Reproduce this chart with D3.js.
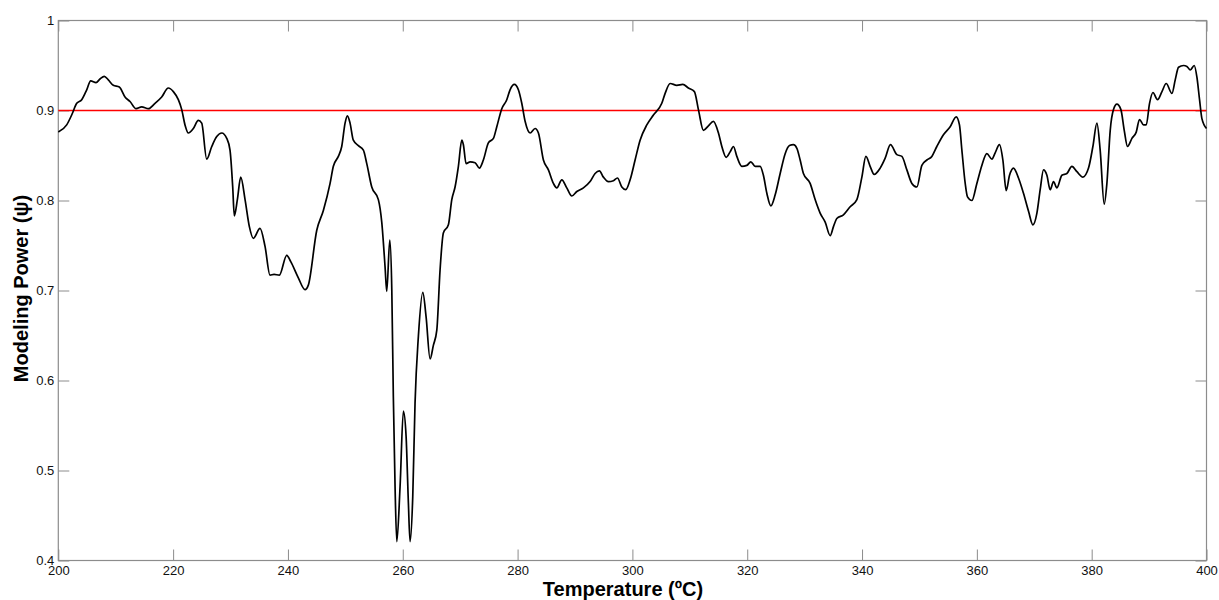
<!DOCTYPE html>
<html>
<head>
<meta charset="utf-8">
<script src="https://cdnjs.cloudflare.com/ajax/libs/d3/7.8.5/d3.min.js"></script>
<style>
  html, body { margin: 0; padding: 0; background: #fff; }
  svg { display: block; }
  .tick text { font-family: Arial, "Liberation Sans", sans-serif; font-size: 13px; fill: #111; }
  .axis-title { font-family: Arial, "Liberation Sans", sans-serif; font-weight: bold; font-size: 20px; fill: #000; }
</style>
</head>
<body>
<svg id="chart" width="1219" height="600"></svg>
<script>
// Temperature samples (ºC)
const temperature = [
  200.00, 201.46, 202.33, 203.21, 204.08, 204.95, 205.64, 206.57, 207.26, 208.01,
  208.71, 209.58, 210.63, 211.62, 212.49, 213.54, 214.53, 215.68, 216.85, 218.01,
  219.16, 220.04, 220.91, 221.50, 222.07, 222.65, 223.52, 224.39, 224.98, 225.85,
  226.73, 227.60, 228.47, 229.34, 229.91, 230.38, 230.66, 231.19, 231.78, 232.53,
  233.28, 233.97, 235.14, 236.01, 236.88, 237.58, 238.50, 239.79, 240.49, 241.81,
  242.98, 243.55, 245.02, 246.17, 247.34, 247.91, 248.78, 249.37, 249.95, 250.35,
  250.82, 251.39, 252.27, 253.14, 253.73, 254.60, 255.75, 256.34, 256.92, 257.21,
  257.74, 258.09, 258.36, 258.66, 258.96, 259.53, 260.11, 260.58, 260.98, 261.27,
  261.74, 262.14, 262.72, 263.49, 264.06, 264.76, 265.33, 265.93, 266.50, 267.07,
  267.95, 268.54, 269.11, 269.69, 270.28, 270.56, 271.03, 271.73, 272.60, 273.35,
  274.04, 274.91, 275.79, 276.38, 277.25, 278.12, 278.69, 279.44, 280.14, 280.73,
  281.31, 282.18, 283.05, 283.63, 284.50, 285.37, 286.24, 286.83, 287.70, 288.57,
  289.44, 290.32, 291.47, 292.63, 293.50, 294.25, 294.95, 295.82, 296.69, 297.39,
  298.16, 298.85, 299.60, 300.47, 301.34, 302.51, 303.66, 305.12, 305.70, 306.57,
  307.74, 308.78, 309.76, 310.80, 311.50, 312.37, 313.24, 314.11, 314.99, 315.58,
  316.33, 317.02, 317.60, 318.19, 319.06, 319.93, 320.63, 321.38, 322.25, 322.82,
  323.42, 324.11, 324.86, 325.74, 326.61, 327.36, 328.05, 328.65, 329.22, 329.79,
  330.96, 331.83, 332.70, 333.58, 334.45, 335.02, 335.61, 336.76, 337.93, 339.10,
  339.97, 340.67, 341.41, 342.11, 343.16, 344.03, 344.95, 346.07, 346.94, 347.81,
  348.68, 349.55, 350.42, 351.29, 352.16, 353.03, 354.18, 355.35, 356.40, 356.97,
  357.39, 357.97, 358.37, 359.13, 360.00, 360.87, 361.74, 362.62, 363.19, 363.94,
  364.53, 365.11, 365.69, 366.38, 367.25, 368.12, 369.00, 369.76, 370.46, 371.03,
  371.61, 372.20, 372.77, 373.35, 373.94, 374.81, 375.68, 376.56, 377.43, 378.47,
  379.45, 380.21, 380.91, 381.48, 382.18, 382.65, 383.23, 383.80, 384.39, 385.09,
  385.67, 386.24, 387.01, 387.76, 388.33, 389.03, 389.50, 390.08, 390.67, 391.47,
  392.24, 392.98, 393.98, 394.55, 395.13, 396.00, 396.59, 397.17, 397.86, 398.33,
  398.79, 399.20, 400.00
];

// Modeling power (ψ) at each temperature
const modelingPower = [
  0.876, 0.884, 0.895, 0.908, 0.912, 0.923, 0.933, 0.931, 0.935, 0.938,
  0.934, 0.928, 0.926, 0.915, 0.910, 0.902, 0.904, 0.902, 0.908, 0.915,
  0.925, 0.921, 0.912, 0.901, 0.884, 0.875, 0.880, 0.889, 0.886, 0.846,
  0.860, 0.871, 0.875, 0.869, 0.856, 0.815, 0.783, 0.801, 0.826, 0.801,
  0.771, 0.758, 0.769, 0.749, 0.717, 0.718, 0.717, 0.739, 0.732, 0.714,
  0.701, 0.706, 0.767, 0.789, 0.819, 0.838, 0.849, 0.860, 0.886, 0.894,
  0.886, 0.867, 0.861, 0.856, 0.841, 0.815, 0.801, 0.776, 0.726, 0.699,
  0.756, 0.701, 0.582, 0.482, 0.421, 0.482, 0.566, 0.538, 0.464, 0.421,
  0.471, 0.575, 0.649, 0.698, 0.671, 0.624, 0.639, 0.656, 0.723, 0.764,
  0.773, 0.801, 0.815, 0.838, 0.867, 0.862, 0.841, 0.843, 0.842, 0.836,
  0.845, 0.864, 0.869, 0.882, 0.902, 0.912, 0.923, 0.929, 0.923, 0.908,
  0.888, 0.875, 0.880, 0.875, 0.845, 0.834, 0.819, 0.814, 0.823, 0.814,
  0.805, 0.810, 0.814, 0.821, 0.830, 0.833, 0.826, 0.821, 0.822, 0.825,
  0.815, 0.812, 0.823, 0.845, 0.867, 0.884, 0.895, 0.908, 0.919, 0.930,
  0.928, 0.929, 0.925, 0.921, 0.901, 0.878, 0.883, 0.888, 0.875, 0.860,
  0.848, 0.854, 0.860, 0.849, 0.838, 0.839, 0.843, 0.838, 0.838, 0.828,
  0.808, 0.794, 0.806, 0.830, 0.852, 0.861, 0.862, 0.858, 0.845, 0.830,
  0.819, 0.801, 0.786, 0.776, 0.761, 0.771, 0.780, 0.784, 0.793, 0.801,
  0.826, 0.849, 0.838, 0.829, 0.836, 0.847, 0.862, 0.851, 0.849, 0.834,
  0.819, 0.815, 0.839, 0.845, 0.849, 0.860, 0.873, 0.882, 0.893, 0.884,
  0.856, 0.819, 0.804, 0.800, 0.819, 0.839, 0.852, 0.846, 0.853, 0.862,
  0.845, 0.811, 0.828, 0.836, 0.825, 0.808, 0.788, 0.773, 0.786, 0.812,
  0.834, 0.828, 0.812, 0.821, 0.814, 0.828, 0.830, 0.838, 0.832, 0.826,
  0.836, 0.860, 0.886, 0.856, 0.796, 0.819, 0.878, 0.901, 0.907, 0.901,
  0.878, 0.860, 0.869, 0.876, 0.890, 0.884, 0.884, 0.908, 0.920, 0.912,
  0.921, 0.930, 0.919, 0.934, 0.948, 0.950, 0.949, 0.945, 0.950, 0.937,
  0.912, 0.891, 0.880
];

// Threshold level drawn as a horizontal reference line
const threshold = 0.9;

// Axis ticks
const xTickValues = [200, 220, 240, 260, 280, 300, 320, 340, 360, 380, 400];
const xTickLabels = ["200", "220", "240", "260", "280", "300", "320", "340", "360", "380", "400"];
const yTickValues = [0.4, 0.5, 0.6, 0.7, 0.8, 0.9, 1.0];
const yTickLabels = ["0.4", "0.5", "0.6", "0.7", "0.8", "0.9", "1"];

const xTitle = "Temperature (ºC)";
const yTitle = "Modeling Power (\u03C8)";

// Layout
const plot = { left: 58.3, right: 1206.5, top: 20.5, bottom: 560.5 };
const tickLen = 11;
const axisColor = "#8c8c8c";

const svg = d3.select("#chart");

const x = d3.scaleLinear().domain([200, 400]).range([plot.left, plot.right]);
const y = d3.scaleLinear().domain([0.4, 1.0]).range([plot.bottom, plot.top]);

const series = temperature.map((t, i) => ({ t, v: modelingPower[i] }));

// Axes: labelled bottom/left, tick-only top/right, all ticks pointing inward
const xLabel = d => xTickLabels[xTickValues.indexOf(d)];
const yLabel = d => yTickLabels[yTickValues.findIndex(v => Math.abs(v - d) < 1e-9)];

const gxBottom = svg.append("g")
  .attr("transform", `translate(0,${plot.bottom})`)
  .call(d3.axisBottom(x).tickValues(xTickValues).tickFormat(xLabel)
    .tickSizeInner(-tickLen).tickSizeOuter(0).tickPadding(5));

const gxTop = svg.append("g")
  .attr("transform", `translate(0,${plot.top})`)
  .call(d3.axisTop(x).tickValues(xTickValues).tickFormat("")
    .tickSizeInner(-tickLen).tickSizeOuter(0));

const gyLeft = svg.append("g")
  .attr("transform", `translate(${plot.left},0)`)
  .call(d3.axisLeft(y).tickValues(yTickValues).tickFormat(yLabel)
    .tickSizeInner(-tickLen).tickSizeOuter(0).tickPadding(4));

const gyRight = svg.append("g")
  .attr("transform", `translate(${plot.right},0)`)
  .call(d3.axisRight(y).tickValues(yTickValues).tickFormat("")
    .tickSizeInner(-tickLen).tickSizeOuter(0));

[gxBottom, gxTop, gyLeft, gyRight].forEach(g => {
  g.select(".domain").remove();
  g.selectAll(".tick line").attr("stroke", axisColor).attr("stroke-width", 1);
});

// Plot frame
svg.append("rect")
  .attr("x", plot.left)
  .attr("y", plot.top)
  .attr("width", plot.right - plot.left)
  .attr("height", plot.bottom - plot.top)
  .attr("fill", "none")
  .attr("stroke", axisColor)
  .attr("stroke-width", 1.2);

// Threshold line
svg.append("line")
  .attr("x1", x(200)).attr("x2", x(400))
  .attr("y1", y(threshold)).attr("y2", y(threshold))
  .attr("stroke", "#ff0000")
  .attr("stroke-width", 1.6);

// Modeling power curve
const line = d3.line()
  .x(d => x(d.t))
  .y(d => y(d.v))
  .curve(d3.curveMonotoneX);

svg.append("path")
  .datum(series)
  .attr("d", line)
  .attr("fill", "none")
  .attr("stroke", "#000")
  .attr("stroke-width", 1.7)
  .attr("stroke-linejoin", "round");

// Axis titles
svg.append("text")
  .attr("class", "axis-title")
  .attr("x", 623)
  .attr("y", 596)
  .attr("text-anchor", "middle")
  .text(xTitle);

svg.append("text")
  .attr("class", "axis-title")
  .attr("transform", `translate(28,${(plot.top + plot.bottom) / 2 - 2}) rotate(-90)`)
  .attr("text-anchor", "middle")
  .text(yTitle);
</script>
</body>
</html>
